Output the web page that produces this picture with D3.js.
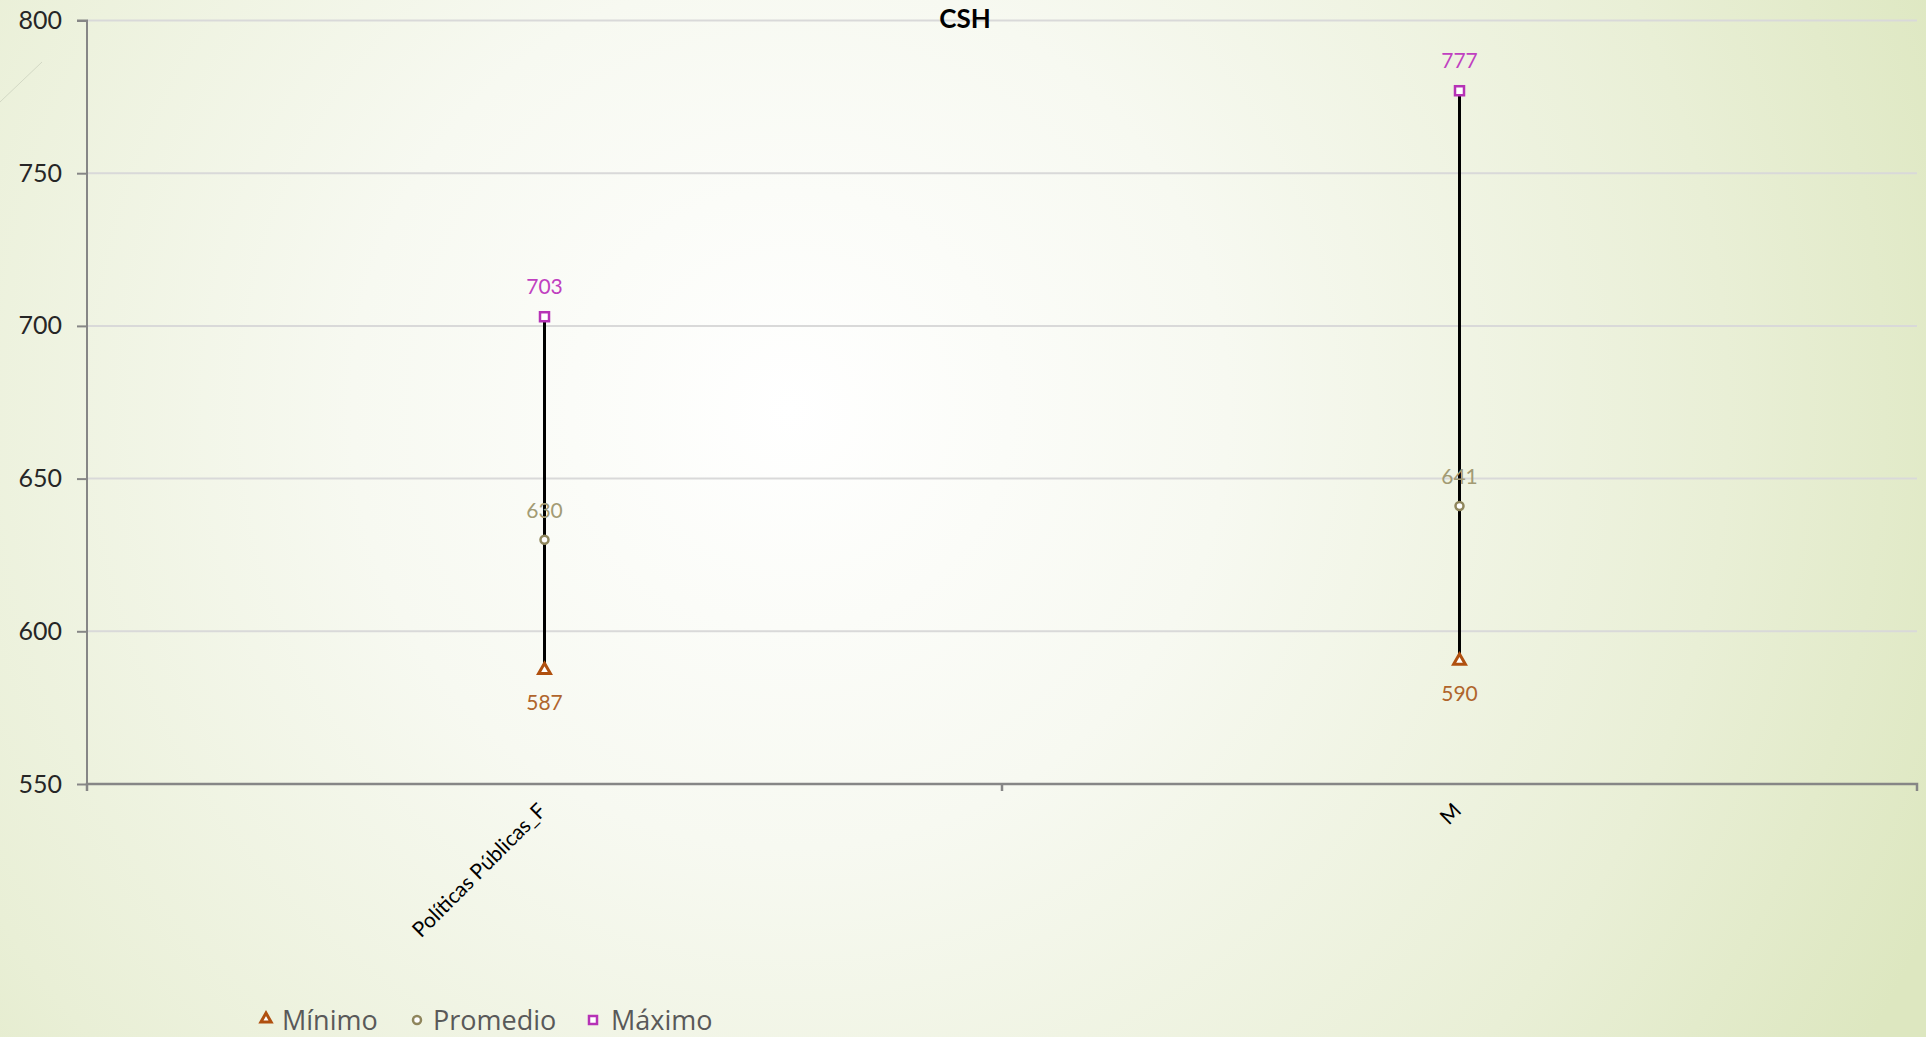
<!DOCTYPE html>
<html><head><meta charset="utf-8">
<script src="https://cdn.jsdelivr.net/npm/d3@7"></script>
<style>html,body{margin:0;padding:0;overflow:hidden;background:#fff}</style>
</head><body>
<svg id="c" width="1926" height="1037"></svg>
<script>
const categories = ["Políticas Públicas_F", "M"];
const minimo = [587, 590];
const promedio = [630, 641];
const maximo = [703, 777];
const yTicks = [550, 600, 650, 700, 750, 800];
const title = "CSH";
const seriesNames = ["Mínimo", "Promedio", "Máximo"];

const W = 1926, H = 1037;
const m = {l: 87, r: 9, t: 20.5, b: 253};
const svg = d3.select("#c");
const defs = svg.append("defs");
const rg = defs.append("radialGradient").attr("id","bg").attr("gradientUnits","userSpaceOnUse")
  .attr("cx",790).attr("cy",410).attr("r",1250);
rg.append("stop").attr("offset","0").attr("stop-color","#ffffff");
rg.append("stop").attr("offset","0.35").attr("stop-color","#f7f9f1");
rg.append("stop").attr("offset","0.75").attr("stop-color","#e9efd6");
rg.append("stop").attr("offset","1").attr("stop-color","#dde7c0");
svg.append("rect").attr("width",W).attr("height",H).attr("fill","url(#bg)");
svg.append("line").attr("x1",0).attr("y1",102).attr("x2",42).attr("y2",62)
  .attr("stroke","#d2d8c4").attr("stroke-width",1);

const x = d3.scaleBand().domain(categories).range([m.l, W - m.r]);
const y = d3.scaleLinear().domain([550, 800]).range([H - m.b, m.t]);
const font = "Lato, 'Open Sans', sans-serif";
const font2 = "'Open Sans', Lato, sans-serif";

// gridlines
svg.append("g").selectAll("line").data(yTicks.filter(d => d > 550)).join("line")
  .attr("x1", m.l).attr("x2", W - m.r).attr("y1", d => y(d)).attr("y2", d => y(d))
  .attr("stroke", "#d9d9d9").attr("stroke-width", 2);

// y axis
const ya = svg.append("g").attr("transform", `translate(${m.l},0)`)
  .call(d3.axisLeft(y).tickValues(yTicks).tickSize(10).tickPadding(6).tickFormat(d3.format("d")));
ya.select(".domain").attr("stroke", "#868686").attr("stroke-width", 2).attr("d", `M-10,${y(800)}H0V${y(550)}`);
ya.selectAll(".tick line").attr("stroke", "#868686").attr("stroke-width", 2);
ya.selectAll(".tick text").attr("font-family", font).attr("font-size", 25).attr("fill", "#262626")
  .attr("x", -25);

// x axis
const xa = svg.append("g").attr("transform", `translate(0,${y(550)})`)
  .call(d3.axisBottom(x).tickSize(0).tickFormat(""));
xa.select(".domain").attr("stroke", "#868686").attr("stroke-width", 2.5)
  .attr("d", `M${m.l},7V0H${W - m.r}V7`);
const bounds = [x(categories[1])];
xa.selectAll(".sep").data(bounds).join("line").attr("class","sep")
  .attr("x1", d => d).attr("x2", d => d).attr("y1", 0).attr("y2", 7)
  .attr("stroke", "#868686").attr("stroke-width", 2.5);
svg.append("g").selectAll("text").data(categories).join("text")
  .attr("transform", d => `translate(${x(d) + x.bandwidth()/2 + 3},${y(550) + 28}) rotate(-45)`)
  .attr("text-anchor", "end").attr("font-family", font).attr("font-size", 21).attr("fill", "#000")
  .text(d => d);

// title
svg.append("text").attr("x", 965).attr("y", 28).attr("text-anchor", "middle")
  .attr("font-family", font).attr("font-weight", "bold").attr("font-size", 26).attr("fill", "#000").text(title);

const cx = i => x(categories[i]) + x.bandwidth()/2;
const idx = d3.range(categories.length);

// high-low lines
svg.append("g").selectAll("line").data(idx).join("line")
  .attr("x1", cx).attr("x2", cx).attr("y1", i => y(minimo[i])).attr("y2", i => y(maximo[i]))
  .attr("stroke", "#000").attr("stroke-width", 3);

const colMin = "#b0500f", colAvg = "#8f865c", colMax = "#b632b6";
const labMin = "#b0652c", labAvg = "#a39b74", labMax = "#c040c0";
const tri = d3.symbol().type(d3.symbolTriangle).size(60);

// markers
svg.append("g").selectAll("path").data(idx).join("path")
  .attr("transform", i => `translate(${cx(i)},${y(minimo[i]) - 1})`).attr("d", tri)
  .attr("fill", "#fff").attr("stroke", colMin).attr("stroke-width", 3);
svg.append("g").selectAll("circle").data(idx).join("circle")
  .attr("cx", cx).attr("cy", i => y(promedio[i])).attr("r", 4)
  .attr("fill", "#fff").attr("stroke", colAvg).attr("stroke-width", 2.5);
svg.append("g").selectAll("rect").data(idx).join("rect")
  .attr("x", i => cx(i) - 4.5).attr("y", i => y(maximo[i]) - 4.5).attr("width", 9).attr("height", 9)
  .attr("fill", "#fff").attr("stroke", colMax).attr("stroke-width", 2.5);

// data labels
const lab = (arr, dy, col) => svg.append("g").selectAll("text").data(idx).join("text")
  .attr("x", cx).attr("y", i => y(arr[i]) + dy).attr("text-anchor", "middle")
  .attr("font-family", font).attr("font-size", 21).attr("fill", col).text(i => arr[i]);
lab(maximo, -23, labMax);
lab(promedio, -22, labAvg);
lab(minimo, 39, labMin);

// legend
const lg = svg.append("g").attr("font-family", font2).attr("font-size", 27).attr("fill", "#595959");
const ly = 1020;
lg.append("path").attr("transform", `translate(266,${ly - 1})`).attr("d", d3.symbol().type(d3.symbolTriangle).size(45))
  .attr("fill", "#fff").attr("stroke", colMin).attr("stroke-width", 3);
lg.append("text").attr("x", 282).attr("y", ly + 10).text(seriesNames[0]);
lg.append("circle").attr("cx", 417).attr("cy", ly).attr("r", 4).attr("fill", "#fff").attr("stroke", colAvg).attr("stroke-width", 2.5);
lg.append("text").attr("x", 433).attr("y", ly + 10).text(seriesNames[1]);
lg.append("rect").attr("x", 589).attr("y", ly - 4).attr("width", 8).attr("height", 8)
  .attr("fill", "#fff").attr("stroke", colMax).attr("stroke-width", 2.5);
lg.append("text").attr("x", 611).attr("y", ly + 10).text(seriesNames[2]);
</script>
</body></html>
